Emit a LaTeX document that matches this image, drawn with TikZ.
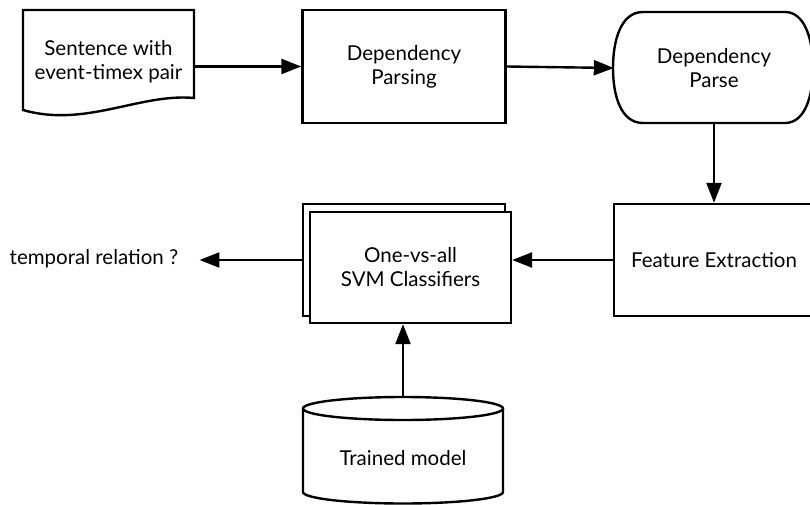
\documentclass[tikz,border=0pt]{standalone}
\usepackage{fontspec}
\setmainfont{Lato}
\usetikzlibrary{arrows.meta}
\tikzset{
  line/.style={line width=2.4pt},
  arr/.style={line width=2.4pt, -{Triangle[length=20pt,width=15pt]}},
  lbl/.style={font=\fontsize{20.5}{24}\selectfont, align=center, inner sep=0pt},
  boxed/.style={lbl, draw, line width=2.4pt, fill=white},
}
\begin{document}
\begin{tikzpicture}[x=1pt,y=-1pt]
\useasboundingbox (0,0) rectangle (810,505);
\clip (0,0) rectangle (810,505);
\fill[white] (0,0) rectangle (810,505);

% document shape
\draw[line] (23,10) -- (194,10) -- (194,98) .. controls (140,93) and (85,128) .. (23,110) -- cycle;
\node[lbl, minimum width=171pt, minimum height=100pt] (doc) at (108.5,62) {Sentence with\\event-timex pair};

% Dependency Parsing
\node[boxed, minimum width=203pt, minimum height=113pt] (parsing) at (404,66.5) {Dependency\\Parsing};

% Dependency Parse (terminal)
\draw[line] (643,12) -- (785,12) .. controls (805,12) and (813,40) .. (813,68)
  .. controls (813,96) and (805,123) .. (785,123) -- (643,123)
  .. controls (621,123) and (613,96) .. (613,68)
  .. controls (613,40) and (621,12) .. (643,12) -- cycle;
\node[lbl, minimum width=200pt, minimum height=111pt] (parse) at (714,68) {Dependency\\Parse};

% Feature Extraction
\node[boxed, minimum width=200pt, minimum height=112pt] (feat) at (714,260) {Feature Extraction};

% SVM classifiers (stacked)
\node[boxed, minimum width=202pt, minimum height=112pt] (svmback) at (404,260) {};
\node[boxed, minimum width=201pt, minimum height=111pt] (svm) at (410.5,267.5) {One-vs-all\\SVM Classifiers};

% output label
\node[lbl] (out) at (94,259) {temporal relation ?};

% Trained model (cylinder)
\draw[line, fill=white] (303,408.5) -- (303,492) arc[start angle=180, end angle=360, x radius=100pt, y radius=11.5pt] -- (503,408.5);
\draw[line, fill=white] (403,408.5) ellipse[x radius=100pt, y radius=11.5pt];
\node[lbl, minimum width=200pt, minimum height=106pt] (model) at (403,450) {};
\node[lbl] (modeltext) at (403,458) {Trained model};

% connectors
\draw[arr] (doc.east |- parsing.west) -- (parsing.west);
\draw[arr] (parsing.east) -- (parse.west);
\draw[arr] (parse.south) -- (feat.north);
\draw[arr] (feat.west) -- (feat.west -| svm.east);
\draw[arr, shorten >=21pt] (svmback.west) -- (out.east |- svmback.west);
\draw[arr] (model.north) -- (model.north |- svm.south);
\end{tikzpicture}
\end{document}
